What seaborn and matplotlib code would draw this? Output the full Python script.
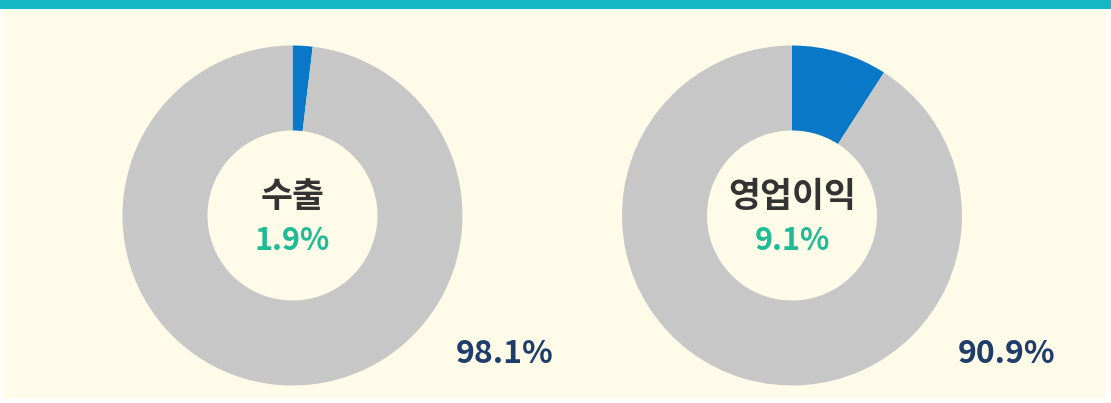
import matplotlib
matplotlib.use("Agg")
import matplotlib.pyplot as plt
from matplotlib.patches import Rectangle, Circle
import seaborn as sns

# Data
titles = ["수출", "영업이익"]
highlight_pct = [1.9, 9.1]
rest_pct = [98.1, 90.9]
highlight_labels = ["1.9%", "9.1%"]
rest_labels = ["98.1%", "90.9%"]

sns.set_theme(style="white")
plt.rcParams['font.family'] = ['Noto Sans CJK KR', 'DejaVu Sans']

W, H = 1111, 403
CREAM = "#FEFCE8"
fig = plt.figure(figsize=(W / 100, H / 100), dpi=100, facecolor="white")

# background panels
bg = fig.add_axes([0, 0, 1, 1])
bg.set_xlim(0, W)
bg.set_ylim(H, 0)
bg.axis("off")
bg.add_patch(Rectangle((3, 10), 1103, 388, facecolor=CREAM, edgecolor="none"))
bg.add_patch(Rectangle((0, 0), W, 8.5, facecolor="#14B8C4", edgecolor="none"))

blue = "#0A78C8"
gray = "#C7C7C7"
centers = [(292.5, 215.5), (792.0, 215.5)]
R = 170.0
rest_label_pos = [(505, 354), (1007, 354)]

for i, (cx, cy) in enumerate(centers):
    ax = fig.add_axes([(cx - R) / W, 1 - (cy + R) / H, 2 * R / W, 2 * R / H])
    ax.set_facecolor("none")
    ax.patch.set_alpha(0)
    ax.pie([highlight_pct[i], rest_pct[i]], colors=[blue, gray], startangle=90,
           counterclock=False, radius=1.0,
           wedgeprops=dict(width=0.5, edgecolor="none", linewidth=0))
    ax.add_patch(Circle((0, 0), 0.5, facecolor=CREAM, edgecolor="none", zorder=0.5))
    ax.set_xlim(-1, 1)
    ax.set_ylim(-1, 1)
    ax.set_aspect("auto")
    ax.axis("off")
    ax.text(0, 0.11, titles[i], ha="center", va="center", fontsize=25,
            fontweight="bold", color="#333333")
    ax.text(0, -0.15, highlight_labels[i], ha="center", va="center", fontsize=22,
            fontweight="bold", color="#1FBA96")
    lx, ly = rest_label_pos[i]
    bg.text(lx, ly, rest_labels[i], ha="center", va="center", fontsize=23,
            fontweight="bold", color="#1F3D6B")

fig.savefig("out.png", dpi=100, facecolor="white")
